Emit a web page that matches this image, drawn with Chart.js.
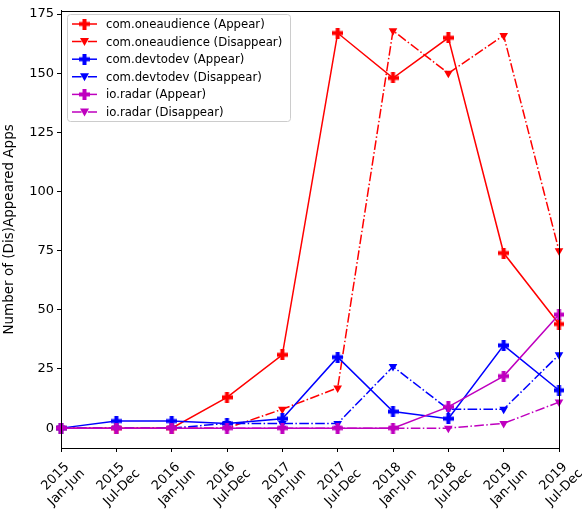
<!DOCTYPE html>
<html>
<head>
<meta charset="utf-8">
<script src="https://cdn.jsdelivr.net/npm/chart.js@4.4.0/dist/chart.umd.min.js"></script>
<style>
  body { margin: 0; background: #fff; }
  canvas { display: block; }
</style>
</head>
<body>
<canvas id="apps-chart" width="582" height="513"></canvas>
<script>
// Half-year periods on the x axis (two-line labels)
const categories = [
    ['2015', 'Jan-Jun'], ['2015', 'Jul-Dec'],
    ['2016', 'Jan-Jun'], ['2016', 'Jul-Dec'],
    ['2017', 'Jan-Jun'], ['2017', 'Jul-Dec'],
    ['2018', 'Jan-Jun'], ['2018', 'Jul-Dec'],
    ['2019', 'Jan-Jun'], ['2019', 'Jul-Dec']
];

// Counts
const oneAppear     = [0, 0, 0, 13, 31, 167, 148, 165, 74, 44];
const oneDisappear  = [0, 0, 0, 0, 8, 17, 168, 150, 166, 75];
const devAppear     = [0, 3, 3, 2, 4, 30, 7, 4, 35, 16];
const devDisappear  = [0, 0, 0, 2, 2, 2, 26, 8, 8, 31];
const radarAppear   = [0, 0, 0, 0, 0, 0, 0, 9, 22, 48];
const radarDisappear = [0, 0, 0, 0, 0, 0, 0, 0, 2, 11];

const yTicks = [0, 25, 50, 75, 100, 125, 150, 175];

const FONT = "'DejaVu Sans', sans-serif";
const dashDot = [9.6, 2.4, 1.5, 2.4];

// filled plus marker, like matplotlib's 'P'
function plusMarker(color) {
    const size = 11;
    const c = document.createElement('canvas');
    c.width = size;
    c.height = size;
    const g = c.getContext('2d');
    g.fillStyle = color;
    const arm = 4;
    const off = (size - arm) / 2;
    g.fillRect(off, 0, arm, size);
    g.fillRect(0, off, size, arm);
    return c;
}

function series(label, data, color, appear) {
    return {
        label: label,
        data: data,
        borderColor: color,
        backgroundColor: color,
        borderWidth: 1.5,
        borderDash: appear ? [] : dashDot,
        pointStyle: appear ? plusMarker(color) : 'triangle',
        rotation: appear ? 0 : 180,
        pointRadius: 5,
        pointBorderWidth: 0,
        tension: 0,
        fill: false
    };
}

const datasets = [
    series('com.oneaudience (Appear)', oneAppear, '#ff0000', true),
    series('com.oneaudience (Disappear)', oneDisappear, '#ff0000', false),
    series('com.devtodev (Appear)', devAppear, '#0000ff', true),
    series('com.devtodev (Disappear)', devDisappear, '#0000ff', false),
    series('io.radar (Appear)', radarAppear, '#bf00bf', true),
    series('io.radar (Disappear)', radarDisappear, '#bf00bf', false)
];
// later series drawn on top, as in the original
datasets.forEach((d, i) => { d.order = datasets.length - i; });

// frame on all four sides, centred rotated x labels, boxed legend inside the plot
const frameAndLegend = {
    id: 'frameAndLegend',
    afterDraw(chart) {
        const ctx = chart.ctx;
        const a = chart.chartArea;
        ctx.save();
        ctx.strokeStyle = '#000';
        ctx.lineWidth = 1;
        ctx.strokeRect(Math.round(a.left) + 0.5, Math.round(a.top) + 0.5,
            Math.round(a.right - a.left), Math.round(a.bottom - a.top));

        // x tick labels: two lines, rotated 45deg, box centred under the tick
        const xs = chart.scales.x;
        const fs = 13, lh = fs * 1.2;
        ctx.font = fs + 'px ' + FONT;
        ctx.fillStyle = '#000';
        ctx.textAlign = 'center';
        ctx.textBaseline = 'middle';
        categories.forEach((lines, i) => {
            const w = Math.max(...lines.map(t => ctx.measureText(t).width));
            const h = lines.length * lh;
            const side = (w + h) * Math.SQRT1_2;
            const cx = xs.getPixelForTick(i);
            const cy = a.bottom + 7 + side / 2;
            ctx.save();
            ctx.translate(cx, cy);
            ctx.rotate(-Math.PI / 4);
            lines.forEach((t, k) => {
                ctx.fillText(t, 0, (k - (lines.length - 1) / 2) * lh);
            });
            ctx.restore();
        });

        // legend box
        const bx = 67, by = 14, bw = 223, bh = 107;
        ctx.fillStyle = 'rgba(255,255,255,0.8)';
        ctx.strokeStyle = '#cccccc';
        ctx.beginPath();
        ctx.roundRect(bx + 0.5, by + 0.5, bw, bh, 3);
        ctx.fill();
        ctx.stroke();

        ctx.font = '11.7px ' + FONT;
        ctx.textAlign = 'left';
        ctx.textBaseline = 'middle';
        datasets.forEach((d, i) => {
            const y = 24 + i * 17.6;
            ctx.strokeStyle = d.borderColor;
            ctx.lineWidth = 1.5;
            ctx.setLineDash(d.borderDash);
            ctx.beginPath();
            ctx.moveTo(72, y);
            ctx.lineTo(97, y);
            ctx.stroke();
            ctx.setLineDash([]);
            if (d.rotation === 0) {
                const img = d.pointStyle;
                ctx.drawImage(img, 84.5 - img.width / 2, y - img.height / 2);
            } else {
                ctx.fillStyle = d.borderColor;
                ctx.beginPath();
                ctx.moveTo(80, y - 3.5);
                ctx.lineTo(89, y - 3.5);
                ctx.lineTo(84.5, y + 4.5);
                ctx.closePath();
                ctx.fill();
            }
            ctx.fillStyle = '#000';
            ctx.fillText(d.label, 106, y + 1);
        });
        ctx.restore();
    }
};

new Chart(document.getElementById('apps-chart'), {
    type: 'line',
    data: { labels: categories, datasets: datasets },
    options: {
        responsive: false,
        animation: false,
        layout: { padding: { top: 7, right: 23, left: 0, bottom: 0 } },
        plugins: {
            legend: { display: false },
            tooltip: { enabled: false }
        },
        scales: {
            x: {
                type: 'category',
                offset: false,
                grid: { drawOnChartArea: false, drawTicks: true, tickLength: 4, color: '#000' },
                border: { color: '#000', width: 1 },
                ticks: { display: false, autoSkip: false },
                afterFit(scale) { scale.height = 65; }
            },
            y: {
                min: -8.4,
                max: 176.4,
                grid: { drawOnChartArea: false, drawTicks: true, tickLength: 4, color: '#000' },
                border: { color: '#000', width: 1 },
                ticks: {
                    color: '#000',
                    font: { family: FONT, size: 13 },
                    padding: 3
                },
                afterBuildTicks(scale) {
                    scale.ticks = yTicks.map(v => ({ value: v }));
                },
                title: {
                    display: true,
                    text: 'Number of (Dis)Appeared Apps',
                    color: '#000',
                    font: { family: FONT, size: 13.5 },
                    padding: { top: 1, bottom: 2 }
                },
                afterFit(scale) { scale.width = 61; }
            }
        }
    },
    plugins: [frameAndLegend]
});
</script>
</body>
</html>
